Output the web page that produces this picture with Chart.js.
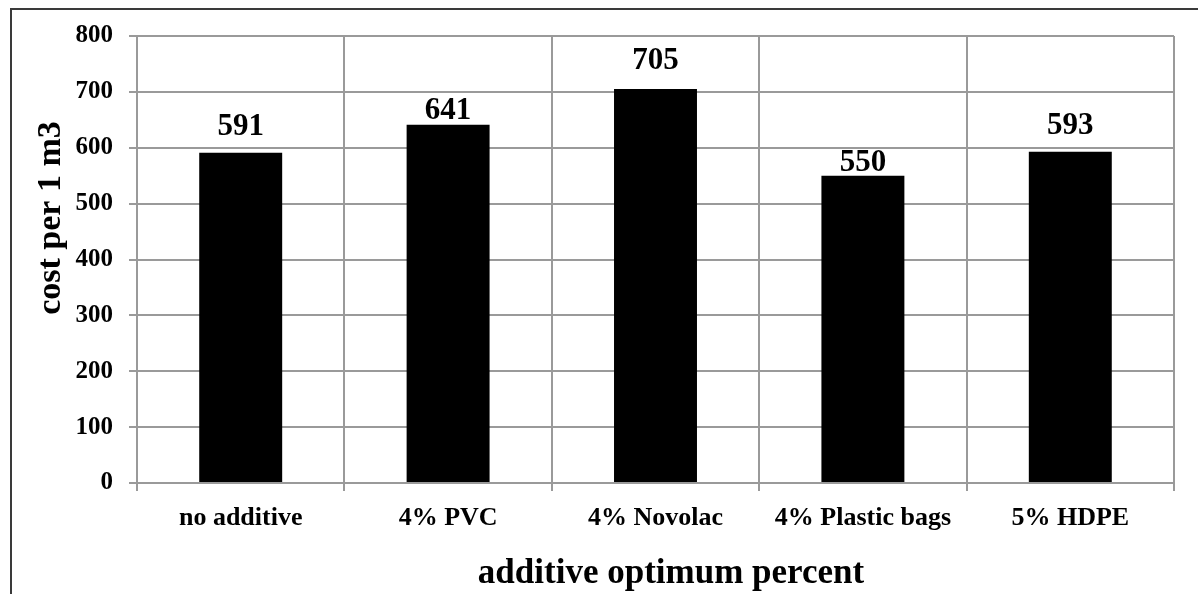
<!DOCTYPE html>
<html>
<head>
<meta charset="utf-8">
<script src="https://cdn.jsdelivr.net/npm/chart.js@4/dist/chart.umd.min.js"></script>
<style>
  html, body { margin: 0; padding: 0; background: #ffffff; }
  #wrap { width: 1198px; height: 594px; position: relative; }
</style>
</head>
<body>
<div id="wrap"><canvas id="c" width="1198" height="594"></canvas></div>
<script>
// Cost per 1 m3 for each additive at its optimum percent
const categories = ['no additive', '4% PVC', '4% Novolac', '4% Plastic bags', '5% HDPE'];
const costs = [591, 641, 705, 550, 593];
const yTicks = [0, 100, 200, 300, 400, 500, 600, 700, 800];
const yTitle = 'cost per 1 m3';
const xTitle = 'additive optimum percent';

const SERIF = '"Liberation Serif", "Times New Roman", serif';
const GRID = '#9a9a9a';

// Outer chart frame, value labels above bars, and both axis titles
const decorations = {
  id: 'decorations',
  afterDraw(chart, args, opts) {
    const ctx = chart.ctx;
    ctx.save();
    ctx.strokeStyle = '#3a3a3a';
    ctx.lineWidth = 2;
    ctx.strokeRect(11, 9, 1400, 800);

    ctx.fillStyle = '#000';
    ctx.textAlign = 'center';
    ctx.textBaseline = 'alphabetic';
    ctx.font = 'bold 31px ' + SERIF;
    const meta = chart.getDatasetMeta(0);
    meta.data.forEach((bar, i) => {
      const v = chart.data.datasets[0].data[i];
      ctx.fillText(String(v), bar.x, bar.y - opts.labelGap[i]);
    });

    ctx.font = 'bold 35px ' + SERIF;
    ctx.fillText(xTitle, 671, 583);

    ctx.translate(60, 218);
    ctx.rotate(-Math.PI / 2);
    ctx.font = 'bold 34px ' + SERIF;
    ctx.fillText(yTitle, 0, 0);
    ctx.restore();
  }
};

new Chart(document.getElementById('c'), {
  type: 'bar',
  data: {
    labels: categories,
    datasets: [{
      data: costs,
      backgroundColor: '#000000',
      borderWidth: 0,
      categoryPercentage: 1.0,
      barPercentage: 0.4
    }]
  },
  options: {
    responsive: false,
    animation: false,
    layout: { padding: { left: 0, top: 36, right: 24, bottom: 0 } },
    plugins: {
      legend: { display: false },
      tooltip: { enabled: false },
      decorations: { labelGap: [18, 6, 20, 5, 18] }
    },
    scales: {
      x: {
        afterFit(scale) { scale.height = 111; },
        grid: { color: GRID, lineWidth: 2, tickLength: 8, offset: true, drawTicks: true },
        border: { color: GRID, width: 2 },
        ticks: {
          color: '#000',
          padding: 14,
          maxRotation: 0,
          autoSkip: false,
          font: { family: SERIF, size: 26, weight: 'bold', lineHeight: 1 }
        }
      },
      y: {
        min: 0,
        max: 800,
        afterFit(scale) { scale.width = 137; },
        afterBuildTicks(scale) { scale.ticks = yTicks.map(v => ({ value: v })); },
        grid: { color: GRID, lineWidth: 2, tickLength: 8 },
        border: { color: GRID, width: 2 },
        ticks: {
          color: '#000',
          padding: 16,
          font: { family: SERIF, size: 25, weight: 'bold' }
        }
      }
    }
  },
  plugins: [decorations]
});
</script>
</body>
</html>
